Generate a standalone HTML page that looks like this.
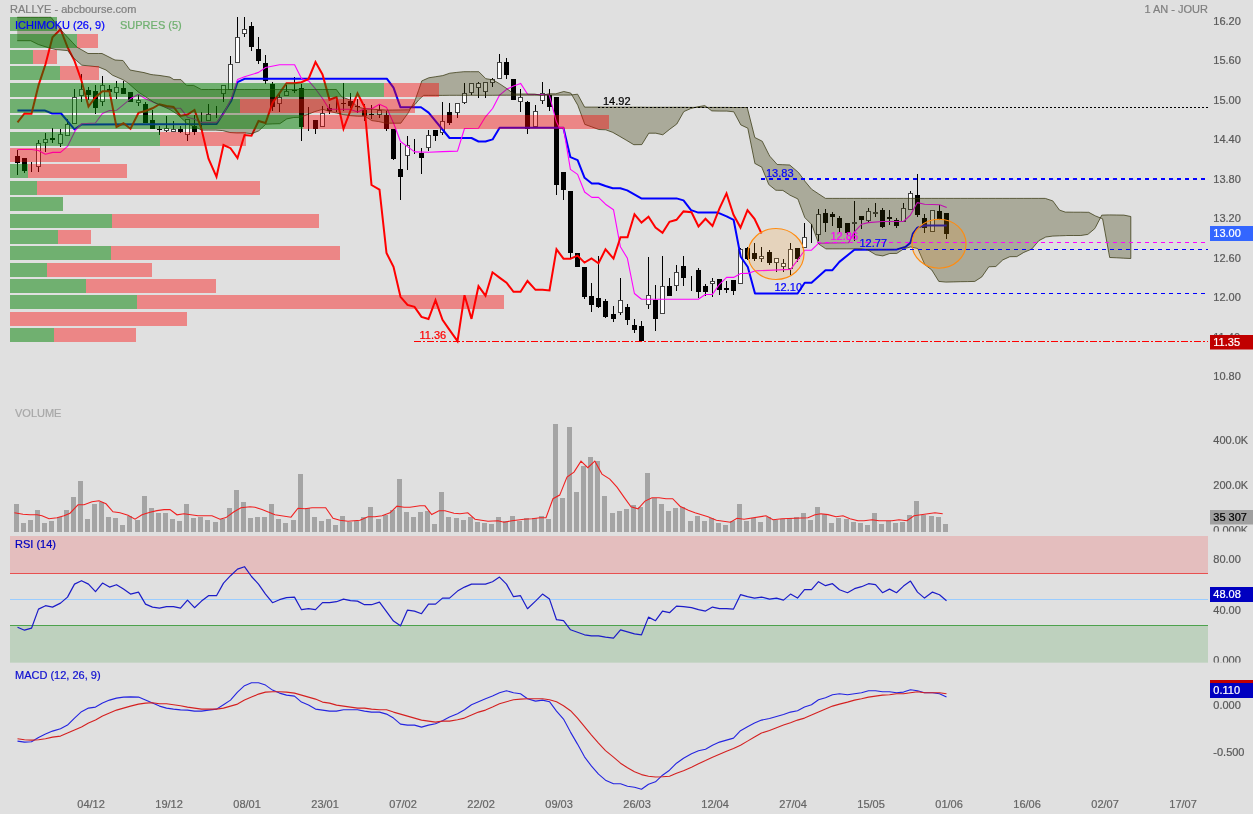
<!DOCTYPE html>
<html><head><meta charset="utf-8"><title>RALLYE - abcbourse.com</title>
<style>html,body{margin:0;padding:0;background:#e0e0e0;overflow:hidden}body{width:1253px;height:814px;font-family:"Liberation Sans",sans-serif}</style></head>
<body>
<svg width="1253" height="814" viewBox="0 0 1253 814" style="display:block;will-change:transform">
<style>text{stroke-width:0.22px;stroke-linejoin:round}</style>
<rect width="1253" height="814" fill="#e0e0e0"/>
<g shape-rendering="crispEdges">
<rect x="17" y="150" width="1" height="25" fill="#000"/>
<rect x="15" y="156" width="5" height="7" fill="#000"/>
<rect x="24" y="158" width="1" height="15" fill="#000"/>
<rect x="22" y="158" width="5" height="13" fill="#000"/>
<rect x="31" y="162" width="1" height="10" fill="#000"/>
<rect x="38" y="140" width="1" height="32" fill="#000"/>
<rect x="36" y="143" width="5" height="24" fill="#444"/>
<rect x="37" y="144" width="3" height="22" fill="#fff"/>
<rect x="45" y="133" width="1" height="19" fill="#000"/>
<rect x="43" y="139" width="5" height="4" fill="#444"/>
<rect x="44" y="140" width="3" height="2" fill="#fff"/>
<rect x="52" y="128" width="1" height="15" fill="#000"/>
<rect x="50" y="138" width="5" height="2" fill="#000"/>
<rect x="60" y="129" width="1" height="18" fill="#000"/>
<rect x="58" y="134" width="5" height="10" fill="#444"/>
<rect x="59" y="135" width="3" height="8" fill="#fff"/>
<rect x="67" y="119" width="1" height="17" fill="#000"/>
<rect x="65" y="124" width="5" height="12" fill="#444"/>
<rect x="66" y="125" width="3" height="10" fill="#fff"/>
<rect x="74" y="89" width="1" height="35" fill="#000"/>
<rect x="72" y="97" width="5" height="27" fill="#444"/>
<rect x="73" y="98" width="3" height="25" fill="#fff"/>
<rect x="81" y="74" width="1" height="28" fill="#000"/>
<rect x="79" y="89" width="5" height="7" fill="#444"/>
<rect x="80" y="90" width="3" height="5" fill="#fff"/>
<rect x="88" y="87" width="1" height="13" fill="#000"/>
<rect x="86" y="90" width="5" height="5" fill="#000"/>
<rect x="95" y="85" width="1" height="29" fill="#000"/>
<rect x="93" y="91" width="5" height="17" fill="#000"/>
<rect x="102" y="76" width="1" height="30" fill="#000"/>
<rect x="100" y="85" width="5" height="17" fill="#444"/>
<rect x="101" y="86" width="3" height="15" fill="#fff"/>
<rect x="109" y="85" width="1" height="11" fill="#000"/>
<rect x="107" y="89" width="5" height="3" fill="#000"/>
<rect x="116" y="81" width="1" height="18" fill="#000"/>
<rect x="114" y="87" width="5" height="6" fill="#444"/>
<rect x="115" y="88" width="3" height="4" fill="#fff"/>
<rect x="123" y="81" width="1" height="13" fill="#000"/>
<rect x="121" y="88" width="5" height="6" fill="#000"/>
<rect x="130" y="92" width="1" height="10" fill="#000"/>
<rect x="128" y="92" width="5" height="10" fill="#000"/>
<rect x="138" y="95" width="1" height="11" fill="#000"/>
<rect x="136" y="100" width="5" height="3" fill="#444"/>
<rect x="137" y="101" width="3" height="1" fill="#fff"/>
<rect x="145" y="102" width="1" height="21" fill="#000"/>
<rect x="143" y="104" width="5" height="19" fill="#000"/>
<rect x="152" y="110" width="1" height="19" fill="#000"/>
<rect x="150" y="120" width="5" height="9" fill="#000"/>
<rect x="159" y="126" width="1" height="9" fill="#000"/>
<rect x="157" y="129" width="5" height="1" fill="#000"/>
<rect x="166" y="116" width="1" height="16" fill="#000"/>
<rect x="164" y="128" width="5" height="3" fill="#444"/>
<rect x="165" y="129" width="3" height="1" fill="#fff"/>
<rect x="173" y="121" width="1" height="11" fill="#000"/>
<rect x="171" y="129" width="5" height="3" fill="#444"/>
<rect x="172" y="130" width="3" height="1" fill="#fff"/>
<rect x="180" y="126" width="1" height="7" fill="#000"/>
<rect x="178" y="129" width="5" height="3" fill="#000"/>
<rect x="187" y="119" width="1" height="22" fill="#000"/>
<rect x="185" y="119" width="5" height="16" fill="#444"/>
<rect x="186" y="120" width="3" height="14" fill="#fff"/>
<rect x="194" y="115" width="1" height="20" fill="#000"/>
<rect x="192" y="126" width="5" height="6" fill="#000"/>
<rect x="201" y="112" width="1" height="17" fill="#000"/>
<rect x="208" y="104" width="1" height="17" fill="#000"/>
<rect x="206" y="114" width="5" height="7" fill="#444"/>
<rect x="207" y="115" width="3" height="5" fill="#fff"/>
<rect x="216" y="106" width="1" height="12" fill="#000"/>
<rect x="223" y="85" width="1" height="17" fill="#000"/>
<rect x="221" y="85" width="5" height="9" fill="#444"/>
<rect x="222" y="86" width="3" height="7" fill="#fff"/>
<rect x="230" y="56" width="1" height="34" fill="#000"/>
<rect x="228" y="64" width="5" height="26" fill="#444"/>
<rect x="229" y="65" width="3" height="24" fill="#fff"/>
<rect x="237" y="17" width="1" height="46" fill="#000"/>
<rect x="235" y="37" width="5" height="26" fill="#444"/>
<rect x="236" y="38" width="3" height="24" fill="#fff"/>
<rect x="244" y="17" width="1" height="20" fill="#000"/>
<rect x="242" y="29" width="5" height="5" fill="#444"/>
<rect x="243" y="30" width="3" height="3" fill="#fff"/>
<rect x="251" y="22" width="1" height="29" fill="#000"/>
<rect x="249" y="26" width="5" height="21" fill="#000"/>
<rect x="258" y="37" width="1" height="27" fill="#000"/>
<rect x="256" y="49" width="5" height="12" fill="#000"/>
<rect x="265" y="55" width="1" height="29" fill="#000"/>
<rect x="263" y="63" width="5" height="18" fill="#000"/>
<rect x="272" y="82" width="1" height="29" fill="#000"/>
<rect x="270" y="84" width="5" height="23" fill="#000"/>
<rect x="279" y="92" width="1" height="20" fill="#000"/>
<rect x="277" y="97" width="5" height="7" fill="#444"/>
<rect x="278" y="98" width="3" height="5" fill="#fff"/>
<rect x="286" y="85" width="1" height="11" fill="#000"/>
<rect x="284" y="91" width="5" height="5" fill="#444"/>
<rect x="285" y="92" width="3" height="3" fill="#fff"/>
<rect x="294" y="77" width="1" height="16" fill="#000"/>
<rect x="292" y="90" width="5" height="1" fill="#000"/>
<rect x="301" y="84" width="1" height="57" fill="#000"/>
<rect x="299" y="88" width="5" height="39" fill="#000"/>
<rect x="308" y="107" width="1" height="24" fill="#000"/>
<rect x="315" y="120" width="1" height="14" fill="#000"/>
<rect x="313" y="120" width="5" height="9" fill="#000"/>
<rect x="322" y="106" width="1" height="21" fill="#000"/>
<rect x="320" y="113" width="5" height="14" fill="#444"/>
<rect x="321" y="114" width="3" height="12" fill="#fff"/>
<rect x="329" y="104" width="1" height="10" fill="#000"/>
<rect x="327" y="108" width="5" height="3" fill="#000"/>
<rect x="336" y="100" width="1" height="12" fill="#000"/>
<rect x="343" y="83" width="1" height="28" fill="#000"/>
<rect x="341" y="103" width="5" height="1" fill="#000"/>
<rect x="350" y="93" width="1" height="15" fill="#000"/>
<rect x="348" y="101" width="5" height="5" fill="#000"/>
<rect x="357" y="99" width="1" height="14" fill="#000"/>
<rect x="355" y="106" width="5" height="1" fill="#000"/>
<rect x="364" y="104" width="1" height="17" fill="#000"/>
<rect x="362" y="110" width="5" height="6" fill="#000"/>
<rect x="371" y="105" width="1" height="14" fill="#000"/>
<rect x="369" y="114" width="5" height="1" fill="#000"/>
<rect x="379" y="104" width="1" height="14" fill="#000"/>
<rect x="377" y="110" width="5" height="5" fill="#444"/>
<rect x="378" y="111" width="3" height="3" fill="#fff"/>
<rect x="386" y="111" width="1" height="20" fill="#000"/>
<rect x="384" y="115" width="5" height="14" fill="#000"/>
<rect x="393" y="129" width="1" height="31" fill="#000"/>
<rect x="391" y="129" width="5" height="30" fill="#000"/>
<rect x="400" y="143" width="1" height="57" fill="#000"/>
<rect x="398" y="169" width="5" height="8" fill="#000"/>
<rect x="407" y="136" width="1" height="34" fill="#000"/>
<rect x="405" y="145" width="5" height="11" fill="#444"/>
<rect x="406" y="146" width="3" height="9" fill="#fff"/>
<rect x="414" y="139" width="1" height="15" fill="#000"/>
<rect x="421" y="148" width="1" height="26" fill="#000"/>
<rect x="419" y="153" width="5" height="5" fill="#000"/>
<rect x="428" y="130" width="1" height="21" fill="#000"/>
<rect x="426" y="135" width="5" height="13" fill="#444"/>
<rect x="427" y="136" width="3" height="11" fill="#fff"/>
<rect x="435" y="130" width="1" height="11" fill="#000"/>
<rect x="433" y="130" width="5" height="6" fill="#000"/>
<rect x="442" y="102" width="1" height="33" fill="#000"/>
<rect x="440" y="121" width="5" height="12" fill="#444"/>
<rect x="441" y="122" width="3" height="10" fill="#fff"/>
<rect x="449" y="103" width="1" height="22" fill="#000"/>
<rect x="447" y="112" width="5" height="11" fill="#000"/>
<rect x="457" y="103" width="1" height="15" fill="#000"/>
<rect x="455" y="103" width="5" height="10" fill="#444"/>
<rect x="456" y="104" width="3" height="8" fill="#fff"/>
<rect x="464" y="83" width="1" height="21" fill="#000"/>
<rect x="462" y="93" width="5" height="10" fill="#444"/>
<rect x="463" y="94" width="3" height="8" fill="#fff"/>
<rect x="471" y="83" width="1" height="12" fill="#000"/>
<rect x="469" y="83" width="5" height="10" fill="#444"/>
<rect x="470" y="84" width="3" height="8" fill="#fff"/>
<rect x="478" y="82" width="1" height="16" fill="#000"/>
<rect x="476" y="83" width="5" height="5" fill="#444"/>
<rect x="477" y="84" width="3" height="3" fill="#fff"/>
<rect x="485" y="82" width="1" height="16" fill="#000"/>
<rect x="483" y="82" width="5" height="10" fill="#444"/>
<rect x="484" y="83" width="3" height="8" fill="#fff"/>
<rect x="492" y="78" width="1" height="9" fill="#000"/>
<rect x="490" y="79" width="5" height="4" fill="#444"/>
<rect x="491" y="80" width="3" height="2" fill="#fff"/>
<rect x="499" y="54" width="1" height="25" fill="#000"/>
<rect x="497" y="62" width="5" height="17" fill="#444"/>
<rect x="498" y="63" width="3" height="15" fill="#fff"/>
<rect x="506" y="58" width="1" height="21" fill="#000"/>
<rect x="504" y="62" width="5" height="13" fill="#000"/>
<rect x="513" y="79" width="1" height="21" fill="#000"/>
<rect x="511" y="79" width="5" height="21" fill="#000"/>
<rect x="520" y="89" width="1" height="23" fill="#000"/>
<rect x="518" y="97" width="5" height="5" fill="#444"/>
<rect x="519" y="98" width="3" height="3" fill="#fff"/>
<rect x="527" y="101" width="1" height="33" fill="#000"/>
<rect x="525" y="102" width="5" height="27" fill="#000"/>
<rect x="535" y="105" width="1" height="23" fill="#000"/>
<rect x="533" y="111" width="5" height="16" fill="#444"/>
<rect x="534" y="112" width="3" height="14" fill="#fff"/>
<rect x="542" y="82" width="1" height="22" fill="#000"/>
<rect x="540" y="93" width="5" height="8" fill="#444"/>
<rect x="541" y="94" width="3" height="6" fill="#fff"/>
<rect x="549" y="89" width="1" height="22" fill="#000"/>
<rect x="547" y="95" width="5" height="12" fill="#000"/>
<rect x="556" y="97" width="1" height="98" fill="#000"/>
<rect x="554" y="97" width="5" height="88" fill="#000"/>
<rect x="563" y="172" width="1" height="28" fill="#000"/>
<rect x="561" y="172" width="5" height="18" fill="#000"/>
<rect x="570" y="191" width="1" height="68" fill="#000"/>
<rect x="568" y="191" width="5" height="62" fill="#000"/>
<rect x="577" y="253" width="1" height="14" fill="#000"/>
<rect x="575" y="253" width="5" height="14" fill="#000"/>
<rect x="584" y="267" width="1" height="32" fill="#000"/>
<rect x="582" y="267" width="5" height="30" fill="#000"/>
<rect x="591" y="283" width="1" height="29" fill="#000"/>
<rect x="589" y="296" width="5" height="9" fill="#000"/>
<rect x="598" y="256" width="1" height="52" fill="#000"/>
<rect x="596" y="298" width="5" height="9" fill="#000"/>
<rect x="605" y="299" width="1" height="19" fill="#000"/>
<rect x="603" y="301" width="5" height="16" fill="#000"/>
<rect x="613" y="306" width="1" height="16" fill="#000"/>
<rect x="611" y="314" width="5" height="5" fill="#000"/>
<rect x="620" y="278" width="1" height="37" fill="#000"/>
<rect x="618" y="300" width="5" height="13" fill="#444"/>
<rect x="619" y="301" width="3" height="11" fill="#fff"/>
<rect x="627" y="304" width="1" height="21" fill="#000"/>
<rect x="625" y="307" width="5" height="13" fill="#000"/>
<rect x="634" y="319" width="1" height="14" fill="#000"/>
<rect x="632" y="325" width="5" height="5" fill="#000"/>
<rect x="641" y="321" width="1" height="20" fill="#000"/>
<rect x="639" y="326" width="5" height="15" fill="#000"/>
<rect x="648" y="257" width="1" height="52" fill="#000"/>
<rect x="646" y="295" width="5" height="10" fill="#444"/>
<rect x="647" y="296" width="3" height="8" fill="#fff"/>
<rect x="655" y="285" width="1" height="46" fill="#000"/>
<rect x="653" y="300" width="5" height="19" fill="#000"/>
<rect x="662" y="256" width="1" height="58" fill="#000"/>
<rect x="660" y="286" width="5" height="28" fill="#444"/>
<rect x="661" y="287" width="3" height="26" fill="#fff"/>
<rect x="669" y="278" width="1" height="18" fill="#000"/>
<rect x="667" y="286" width="5" height="10" fill="#000"/>
<rect x="676" y="265" width="1" height="26" fill="#000"/>
<rect x="674" y="272" width="5" height="14" fill="#444"/>
<rect x="675" y="273" width="3" height="12" fill="#fff"/>
<rect x="683" y="256" width="1" height="30" fill="#000"/>
<rect x="681" y="266" width="5" height="12" fill="#000"/>
<rect x="691" y="276" width="1" height="15" fill="#000"/>
<rect x="698" y="268" width="1" height="30" fill="#000"/>
<rect x="696" y="270" width="5" height="22" fill="#000"/>
<rect x="705" y="284" width="1" height="12" fill="#000"/>
<rect x="703" y="286" width="5" height="6" fill="#000"/>
<rect x="712" y="278" width="1" height="19" fill="#000"/>
<rect x="710" y="281" width="5" height="3" fill="#444"/>
<rect x="711" y="282" width="3" height="1" fill="#fff"/>
<rect x="719" y="279" width="1" height="16" fill="#000"/>
<rect x="717" y="279" width="5" height="11" fill="#000"/>
<rect x="726" y="281" width="1" height="12" fill="#000"/>
<rect x="724" y="288" width="5" height="2" fill="#000"/>
<rect x="733" y="280" width="1" height="15" fill="#000"/>
<rect x="731" y="280" width="5" height="11" fill="#000"/>
<rect x="740" y="248" width="1" height="36" fill="#000"/>
<rect x="738" y="249" width="5" height="35" fill="#444"/>
<rect x="739" y="250" width="3" height="33" fill="#fff"/>
<rect x="747" y="247" width="1" height="13" fill="#000"/>
<rect x="745" y="248" width="5" height="11" fill="#000"/>
<rect x="754" y="243" width="1" height="18" fill="#000"/>
<rect x="752" y="253" width="5" height="6" fill="#000"/>
<rect x="761" y="247" width="1" height="15" fill="#000"/>
<rect x="759" y="256" width="5" height="3" fill="#444"/>
<rect x="760" y="257" width="3" height="1" fill="#fff"/>
<rect x="769" y="250" width="1" height="15" fill="#000"/>
<rect x="767" y="252" width="5" height="11" fill="#000"/>
<rect x="776" y="258" width="1" height="14" fill="#000"/>
<rect x="774" y="258" width="5" height="5" fill="#444"/>
<rect x="775" y="259" width="3" height="3" fill="#fff"/>
<rect x="783" y="259" width="1" height="13" fill="#000"/>
<rect x="781" y="263" width="5" height="4" fill="#444"/>
<rect x="782" y="264" width="3" height="2" fill="#fff"/>
<rect x="790" y="243" width="1" height="32" fill="#000"/>
<rect x="788" y="249" width="5" height="20" fill="#444"/>
<rect x="789" y="250" width="3" height="18" fill="#fff"/>
<rect x="797" y="248" width="1" height="14" fill="#000"/>
<rect x="795" y="248" width="5" height="11" fill="#000"/>
<rect x="804" y="223" width="1" height="25" fill="#000"/>
<rect x="802" y="237" width="5" height="11" fill="#444"/>
<rect x="803" y="238" width="3" height="9" fill="#fff"/>
<rect x="811" y="224" width="1" height="19" fill="#000"/>
<rect x="818" y="209" width="1" height="32" fill="#000"/>
<rect x="816" y="214" width="5" height="21" fill="#444"/>
<rect x="817" y="215" width="3" height="19" fill="#fff"/>
<rect x="825" y="209" width="1" height="23" fill="#000"/>
<rect x="823" y="213" width="5" height="10" fill="#000"/>
<rect x="832" y="212" width="1" height="14" fill="#000"/>
<rect x="830" y="214" width="5" height="3" fill="#000"/>
<rect x="839" y="216" width="1" height="16" fill="#000"/>
<rect x="837" y="218" width="5" height="10" fill="#000"/>
<rect x="847" y="223" width="1" height="12" fill="#000"/>
<rect x="845" y="223" width="5" height="10" fill="#000"/>
<rect x="854" y="201" width="1" height="40" fill="#000"/>
<rect x="852" y="222" width="5" height="2" fill="#444"/>
<rect x="861" y="216" width="1" height="13" fill="#000"/>
<rect x="859" y="216" width="5" height="4" fill="#000"/>
<rect x="868" y="208" width="1" height="14" fill="#000"/>
<rect x="866" y="211" width="5" height="10" fill="#444"/>
<rect x="867" y="212" width="3" height="8" fill="#fff"/>
<rect x="875" y="203" width="1" height="14" fill="#000"/>
<rect x="873" y="212" width="5" height="2" fill="#444"/>
<rect x="882" y="208" width="1" height="20" fill="#000"/>
<rect x="880" y="210" width="5" height="17" fill="#000"/>
<rect x="889" y="210" width="1" height="15" fill="#000"/>
<rect x="887" y="217" width="5" height="2" fill="#000"/>
<rect x="896" y="218" width="1" height="10" fill="#000"/>
<rect x="894" y="220" width="5" height="6" fill="#000"/>
<rect x="903" y="203" width="1" height="19" fill="#000"/>
<rect x="901" y="208" width="5" height="14" fill="#444"/>
<rect x="902" y="209" width="3" height="12" fill="#fff"/>
<rect x="910" y="191" width="1" height="19" fill="#000"/>
<rect x="908" y="193" width="5" height="17" fill="#444"/>
<rect x="909" y="194" width="3" height="15" fill="#fff"/>
<rect x="917" y="174" width="1" height="43" fill="#000"/>
<rect x="915" y="195" width="5" height="20" fill="#000"/>
<rect x="924" y="214" width="1" height="19" fill="#000"/>
<rect x="922" y="218" width="5" height="10" fill="#000"/>
<rect x="932" y="210" width="1" height="22" fill="#000"/>
<rect x="930" y="210" width="5" height="22" fill="#444"/>
<rect x="931" y="211" width="3" height="20" fill="#fff"/>
<rect x="939" y="205" width="1" height="15" fill="#000"/>
<rect x="937" y="211" width="5" height="8" fill="#000"/>
<rect x="946" y="213" width="1" height="26" fill="#000"/>
<rect x="944" y="213" width="5" height="21" fill="#000"/>
</g>
<polyline points="17.4,110.6 45.1,110.6 52.2,113.5 61.1,113.5 74.5,129.4 81.6,124.5 216.6,124 231.3,100.7 237.5,82.2 244.5,78.8 386.8,78.7 393.5,87.6 400.5,107.3 421,107.3 428.6,112.6 449.5,138 471.5,138 478.5,141.5 485.5,141.5 492.6,139.4 499.6,127.7 563.4,127.7 570.4,157.2 577.6,160.2 584.6,177.8 591.8,183.5 598.5,183.5 605.5,186 612.7,188.2 620.3,188.2 627.2,190.4 641.3,198.4 676.5,198.4 683.5,200.4 691,210.1 698.3,212.6 717.1,212.6 719.6,213.4 726.6,216.4 733.6,219.8 740.7,256.7 747.8,267 755,293.5 797.6,293.5 804.7,282.8 811.5,282.8 825.5,270.2 832.4,270.2 839.4,261.9 854.4,249.7 897,249.4 905.4,246.9 910.4,242.7 912.9,233.5 917.4,227.6 924.6,225.5 946.7,225.5" fill="none" stroke="#0000ff" stroke-width="2" stroke-linejoin="round"/>
<polyline points="17.4,149.5 31.7,149.5 38.4,150.5 45.4,154.3 52.8,152.4 60.5,152.4 67.5,146.4 75.2,130.7 81.6,123.7 95.4,123 102.4,113.5 109.4,110.6 116.5,110.3 130.5,98.8 138.4,94.3 145.5,98.8 159.5,105.1 170,108.3 180.6,108.3 187.6,117.3 194.5,119.2 201.6,122.4 216.6,122.4 223.4,114.1 231.3,98.4 237.5,79.6 244.5,76.8 258.6,72.4 265.6,67.5 279.5,64.7 294.6,64.7 301.6,78.8 308.7,80.9 315.7,89.2 322.7,98.8 329.2,109.3 350,109.3 357.6,112.1 364.6,108.8 371.8,108.8 379.5,104.3 386.6,107.6 393.7,123.5 400.5,141.5 407.5,146.6 414.7,151.9 428.6,152.2 442.6,151.6 457.5,151.1 464.5,128.5 478.5,128.2 485.5,116.8 492.6,108.5 499.6,95.1 506.6,89.3 513.6,85.9 520.6,83.4 527.6,94.3 549.2,94.7 556.4,121.8 559.2,127.6 563.4,127.6 570.4,169.4 577.6,174.4 584.6,192 591.8,197.4 598.5,197.4 605.5,204.2 613.5,209.7 620.4,246.8 627.4,258.3 634.4,293.5 641.5,299.3 698.3,299.3 705.3,294.5 712.4,294.4 719.5,284.3 726.6,277.4 733.6,277.4 740.7,273.5 747.8,273.4 755,270.9 790.5,269.4 797.6,260.2 804.7,250.2 811.5,250.2 818.5,243.3 848.6,242.7 854.4,231.8 861.5,224.3 868.3,222.6 882.3,221.5 903.4,221.5 910.4,215.1 917.4,202.6 924.6,204.3 939.6,204.8 946.7,207.6" fill="none" stroke="#ff00ff" stroke-width="1.1" stroke-linejoin="round"/>
<polyline points="17.5,122.3 24.5,113.5 31.5,113.8 38.5,85.4 45.5,64.3 52.5,37.2 60.5,29.2 67.5,47.1 74.5,60.9 81.5,80.7 88.5,106.5 95.5,97.2 102.5,91.2 109.5,91.2 116.5,126.9 123.5,123.3 130.5,128.8 138.5,112.8 145.5,111 152.5,108.3 159.5,104.2 166.5,106 173.5,107 180.5,116 187.5,114.5 194.5,110 201.5,129 208.5,158.7 216.5,176.8 223.5,145 230.5,148.2 237.5,158 244.5,135 251.5,135.8 258.5,121 265.5,123 272.5,103 279.5,93.2 286.5,83.2 294.5,83.2 301.5,82.2 308.5,79 315.5,62 322.5,74.5 329.5,99.8 336.5,97 343.5,128.7 350.5,110.5 357.5,93.4 364.5,107 371.5,185 379.5,189.7 386.5,253 393.5,266.8 400.5,296.8 407.5,304.9 414.5,306.9 421.5,316.9 428.5,319 435.5,300.1 442.5,319.9 449.5,329.9 457.5,341.1 464.5,295.2 471.5,318.9 478.5,286.2 485.5,295.7 492.5,272.3 499.5,277.6 506.5,282.7 513.5,291.8 520.5,291.8 527.5,281 535.5,289.8 542.5,289.8 549.5,290.5 556.5,249.3 563.5,258.7 570.5,258.7 577.5,255.6 584.5,262.6 591.5,258.4 598.5,263.2 605.5,249.4 613.5,258.6 620.5,237.2 627.5,237.2 634.5,214.3 641.5,222.6 648.5,216.7 655.5,227.6 662.5,232.7 669.5,221.8 676.5,219.8 683.5,211.4 691.5,212.3 698.5,226.5 705.5,218.8 712.5,226 719.5,208.4 726.5,193.4 733.5,214.8 740.5,227.6 747.5,210.1 754.5,218.8 761.5,233.5" fill="none" stroke="#ff0000" stroke-width="2" stroke-linejoin="miter"/>
<polygon points="17.2,40.7 30.7,40.7 38.3,44.5 48.5,47.7 51,48.3 56,49.6 60,49.9 67.7,50.6 72.8,57.3 76.7,60.7 81.8,65.2 88,65.8 98.4,66.9 102,68.4 106,70 112.5,75.2 115,76.3 122.7,79.6 123,79.8 127.8,82.8 130,84.7 138,91.8 144,95.8 151,100.4 153.4,102 160,105 170,109.6 173.8,112 177,114.1 180.9,117.7 186.6,122.9 187.5,123.8 193.6,126.4 201.3,129.8 201.8,130.1 208.8,130.1 215.8,130.1 222.8,130.6 229.8,132.5 236.8,133 244.8,132.9 251.8,133.7 258.8,130.8 265.8,124.2 272.8,123.9 279.8,123.7 286.8,118.9 293.8,117.5 300.8,117.3 307.8,114.4 314.8,111.6 322.8,109.3 329.8,111.5 336.4,113 336.8,113.1 341.7,114.2 343.8,114.7 350,115.6 350.8,115.7 357.6,116.2 357.8,116.2 364.6,116.2 364.8,116.2 371.8,120.6 378.8,121.6 385.8,123.2 386.8,123.2 392.8,123.2 400.8,123.2 407.8,113.5 408.5,112.3 414.8,101 415.2,99.9 418.5,90.5 421.8,80.9 423.6,80.1 428.8,77.8 435.8,76.7 442.8,75.6 449.8,73.2 456.8,72.4 463.8,71.7 470.8,71.7 478.8,71.7 485.8,78.7 492.8,79.8 499.8,83.9 506.8,88.6 513.8,94 520.8,94 527.8,94 534.8,94.1 541.8,95.4 548.8,93.8 555.8,93.8 563.8,91.5 570.4,93 570.8,93.1 577.6,104.9 577.8,105.3 584.6,123.8 584.8,124.4 591.8,126.9 598.8,129.5 605.8,129.8 612.8,132.4 619.8,136.4 626.8,140.5 633.8,144.7 641.8,144.6 648.8,133.2 655.8,133.2 662.8,134.8 669.8,129.2 676.8,124 683.8,111.6 690.8,108.5 697.8,106.8 704.8,105.6 711.8,110.9 719.8,111.1 726.8,111.1 733.8,111.8 740.8,124.9 747.2,127.9 747.8,128.2 754.8,162.9 754.8,163.4 761.8,167.2 762.2,168.3 768.8,184.6 769.8,185.4 775.8,190.2 777.2,190.3 782.8,190.4 789.8,195 789.8,195.1 797.8,198.9 798.5,200.7 804.7,217.3 804.8,217.6 811.5,224.3 811.8,224.7 818.8,244.1 825.5,248.6 825.8,248.9 832.8,248.9 839.8,248.9 846.8,248.9 853.8,248.9 860.8,248.9 867.8,249.9 875.8,254.8 882.8,255.9 889.8,253.5 896.8,253.4 903.8,248.8 910.8,246.9 917.8,248.6 924.8,264.6 931.8,270 938.8,281.4 945.8,282.1 953.8,281.9 960.8,281.7 967.8,281.6 974.8,281.4 981.8,276.9 988.8,266.8 995.8,266.5 1002.8,259.9 1009.8,256.7 1016.8,256.6 1023.8,252.4 1031.8,249 1038.8,240.7 1045.3,237.3 1045.8,237 1052.8,236.1 1052.8,236.1 1059.5,235.8 1059.8,235.8 1065.3,235.6 1066.8,235.5 1073.8,235.5 1080.8,235.5 1087.8,234.4 1088.7,233.7 1094.8,228.6 1095.4,227.5 1101.8,215.1 1102.6,215.1 1108.8,214.9 1109.7,214.9 1116.8,215 1123.8,215.1 1130.8,216.5 1130.8,216.5 1130.8,258.5 1130.8,258.5 1123.8,258.2 1116.8,257.8 1109.7,257.5 1108.8,252.8 1102.6,218.8 1101.8,218.5 1095.4,215.9 1094.8,215.6 1088.7,212.3 1087.8,212.3 1080.8,212.2 1073.8,212.2 1066.8,212.1 1065.3,212.1 1059.8,210.2 1059.5,210.1 1052.8,200.9 1052.8,200.9 1045.8,198.6 1045.3,198.4 1038.8,198.4 1031.8,198.4 1023.8,198.4 1016.8,198.4 1009.8,198.4 1002.8,198.4 995.8,198.4 988.8,198.4 981.8,198.4 974.8,198.4 967.8,198.4 960.8,198.4 953.8,198.4 945.8,198.4 938.8,198.4 931.8,198.4 924.8,198.4 917.8,198.4 910.8,198.4 903.8,198.4 896.8,198.4 889.8,198.4 882.8,198.4 875.8,198.4 867.8,198.4 860.8,198.4 853.8,198.4 846.8,198.4 839.8,198.4 832.8,198.4 825.8,198.4 825.5,198.4 818.8,194 811.8,189.4 811.5,189.2 804.8,181.1 804.7,180.9 798.5,172.5 797.8,171.9 789.8,165.1 789.8,165 782.8,164.7 777.2,164.5 775.8,162.9 769.8,156.2 768.8,154.4 762.2,141.2 761.8,141 754.8,137.5 754.8,137.5 747.8,109.8 747.2,107.5 740.8,107.5 733.8,107.5 726.8,107.4 719.8,107.4 711.8,107.4 704.8,107.4 697.8,107.4 690.8,107.4 683.8,107.3 676.8,107.3 669.8,107.3 662.8,107.3 655.8,107.3 648.8,107.3 641.8,107.2 633.8,107.2 626.8,107.2 619.8,107.2 612.8,107.2 605.8,107.2 598.8,107.1 591.8,107.1 584.8,107.1 584.6,107.1 577.8,94.6 577.6,94.2 570.8,95 570.4,95.1 563.8,95.1 555.8,95.1 548.8,95.1 541.8,95.2 534.8,95.2 527.8,95.2 520.8,95.2 513.8,95.2 506.8,95.2 499.8,95.2 492.8,95.3 485.8,95.3 478.8,95.3 470.8,95.3 463.8,95.3 456.8,95.3 449.8,95.3 442.8,95.4 435.8,95.4 428.8,95.4 423.6,95.4 421.8,97 418.5,100.1 415.2,104.3 414.8,104.6 408.5,109.8 407.8,109.8 400.8,109.9 392.8,110 386.8,110.1 385.8,110 378.8,109.6 371.8,109.2 364.8,108.8 364.6,108.8 357.8,106.9 357.6,106.8 350.8,100.8 350,100.1 343.8,97.6 341.7,96.8 336.8,90.1 336.4,89.5 329.8,89.5 322.8,89.5 314.8,89.5 307.8,89.5 300.8,89.5 293.8,89.5 286.8,89.5 279.8,89.5 272.8,89.5 265.8,89.5 258.8,89.5 251.8,89.5 244.8,89.5 236.8,89.5 229.8,89.5 222.8,89.5 215.8,89.5 208.8,89.5 201.8,89.5 201.3,89.5 193.6,85.4 187.5,85.4 186.6,85.4 180.9,79.6 177,79.6 173.8,79.6 170,77.1 160,75.5 153.4,74.8 151,74.5 144,72.6 138,71.5 130,70 127.8,67 123,60.5 122.7,60.5 115,60 112.5,58.8 106,55.5 102,53.5 98.4,53.5 88,53.5 81.8,49.9 76.7,47 72.8,42.8 67.7,37.3 60,29 56,23.8 51,17.3 48.5,17.3 38.3,17.3 30.7,17.3 17.2,17.3" fill="rgba(52,52,0,0.31)" stroke="none"/>
<polyline points="17.2,40.7 30.7,40.7 38.3,44.5 48.5,47.7 51,48.3 56,49.6 60,49.9 67.7,50.6 72.8,57.3 76.7,60.7 81.8,65.2 88,65.8 98.4,66.9 102,68.4 106,70 112.5,75.2 115,76.3 122.7,79.6 123,79.8 127.8,82.8 130,84.7 138,91.8 144,95.8 151,100.4 153.4,102 160,105 170,109.6 173.8,112 177,114.1 180.9,117.7 186.6,122.9 187.5,123.8 193.6,126.4 201.3,129.8 201.8,130.1 208.8,130.1 215.8,130.1 222.8,130.6 229.8,132.5 236.8,133 244.8,132.9 251.8,133.7 258.8,130.8 265.8,124.2 272.8,123.9 279.8,123.7 286.8,118.9 293.8,117.5 300.8,117.3 307.8,114.4 314.8,111.6 322.8,109.3 329.8,111.5 336.4,113 336.8,113.1 341.7,114.2 343.8,114.7 350,115.6 350.8,115.7 357.6,116.2 357.8,116.2 364.6,116.2 364.8,116.2 371.8,120.6 378.8,121.6 385.8,123.2 386.8,123.2 392.8,123.2 400.8,123.2 407.8,113.5 408.5,112.3 414.8,101 415.2,99.9 418.5,90.5 421.8,80.9 423.6,80.1 428.8,77.8 435.8,76.7 442.8,75.6 449.8,73.2 456.8,72.4 463.8,71.7 470.8,71.7 478.8,71.7 485.8,78.7 492.8,79.8 499.8,83.9 506.8,88.6 513.8,94 520.8,94 527.8,94 534.8,94.1 541.8,95.4 548.8,93.8 555.8,93.8 563.8,91.5 570.4,93 570.8,93.1 577.6,104.9 577.8,105.3 584.6,123.8 584.8,124.4 591.8,126.9 598.8,129.5 605.8,129.8 612.8,132.4 619.8,136.4 626.8,140.5 633.8,144.7 641.8,144.6 648.8,133.2 655.8,133.2 662.8,134.8 669.8,129.2 676.8,124 683.8,111.6 690.8,108.5 697.8,106.8 704.8,105.6 711.8,110.9 719.8,111.1 726.8,111.1 733.8,111.8 740.8,124.9 747.2,127.9 747.8,128.2 754.8,162.9 754.8,163.4 761.8,167.2 762.2,168.3 768.8,184.6 769.8,185.4 775.8,190.2 777.2,190.3 782.8,190.4 789.8,195 789.8,195.1 797.8,198.9 798.5,200.7 804.7,217.3 804.8,217.6 811.5,224.3 811.8,224.7 818.8,244.1 825.5,248.6 825.8,248.9 832.8,248.9 839.8,248.9 846.8,248.9 853.8,248.9 860.8,248.9 867.8,249.9 875.8,254.8 882.8,255.9 889.8,253.5 896.8,253.4 903.8,248.8 910.8,246.9 917.8,248.6 924.8,264.6 931.8,270 938.8,281.4 945.8,282.1 953.8,281.9 960.8,281.7 967.8,281.6 974.8,281.4 981.8,276.9 988.8,266.8 995.8,266.5 1002.8,259.9 1009.8,256.7 1016.8,256.6 1023.8,252.4 1031.8,249 1038.8,240.7 1045.3,237.3 1045.8,237 1052.8,236.1 1052.8,236.1 1059.5,235.8 1059.8,235.8 1065.3,235.6 1066.8,235.5 1073.8,235.5 1080.8,235.5 1087.8,234.4 1088.7,233.7 1094.8,228.6 1095.4,227.5 1101.8,215.1 1102.6,215.1 1108.8,214.9 1109.7,214.9 1116.8,215 1123.8,215.1 1130.8,216.5 1130.8,216.5" fill="none" stroke="rgba(50,50,10,0.72)" stroke-width="1"/>
<polyline points="17.2,17.3 30.7,17.3 38.3,17.3 48.5,17.3 51,17.3 56,23.8 60,29 67.7,37.3 72.8,42.8 76.7,47 81.8,49.9 88,53.5 98.4,53.5 102,53.5 106,55.5 112.5,58.8 115,60 122.7,60.5 123,60.5 127.8,67 130,70 138,71.5 144,72.6 151,74.5 153.4,74.8 160,75.5 170,77.1 173.8,79.6 177,79.6 180.9,79.6 186.6,85.4 187.5,85.4 193.6,85.4 201.3,89.5 201.8,89.5 208.8,89.5 215.8,89.5 222.8,89.5 229.8,89.5 236.8,89.5 244.8,89.5 251.8,89.5 258.8,89.5 265.8,89.5 272.8,89.5 279.8,89.5 286.8,89.5 293.8,89.5 300.8,89.5 307.8,89.5 314.8,89.5 322.8,89.5 329.8,89.5 336.4,89.5 336.8,90.1 341.7,96.8 343.8,97.6 350,100.1 350.8,100.8 357.6,106.8 357.8,106.9 364.6,108.8 364.8,108.8 371.8,109.2 378.8,109.6 385.8,110 386.8,110.1 392.8,110 400.8,109.9 407.8,109.8 408.5,109.8 414.8,104.6 415.2,104.3 418.5,100.1 421.8,97 423.6,95.4 428.8,95.4 435.8,95.4 442.8,95.4 449.8,95.3 456.8,95.3 463.8,95.3 470.8,95.3 478.8,95.3 485.8,95.3 492.8,95.3 499.8,95.2 506.8,95.2 513.8,95.2 520.8,95.2 527.8,95.2 534.8,95.2 541.8,95.2 548.8,95.1 555.8,95.1 563.8,95.1 570.4,95.1 570.8,95 577.6,94.2 577.8,94.6 584.6,107.1 584.8,107.1 591.8,107.1 598.8,107.1 605.8,107.2 612.8,107.2 619.8,107.2 626.8,107.2 633.8,107.2 641.8,107.2 648.8,107.3 655.8,107.3 662.8,107.3 669.8,107.3 676.8,107.3 683.8,107.3 690.8,107.4 697.8,107.4 704.8,107.4 711.8,107.4 719.8,107.4 726.8,107.4 733.8,107.5 740.8,107.5 747.2,107.5 747.8,109.8 754.8,137.5 754.8,137.5 761.8,141 762.2,141.2 768.8,154.4 769.8,156.2 775.8,162.9 777.2,164.5 782.8,164.7 789.8,165 789.8,165.1 797.8,171.9 798.5,172.5 804.7,180.9 804.8,181.1 811.5,189.2 811.8,189.4 818.8,194 825.5,198.4 825.8,198.4 832.8,198.4 839.8,198.4 846.8,198.4 853.8,198.4 860.8,198.4 867.8,198.4 875.8,198.4 882.8,198.4 889.8,198.4 896.8,198.4 903.8,198.4 910.8,198.4 917.8,198.4 924.8,198.4 931.8,198.4 938.8,198.4 945.8,198.4 953.8,198.4 960.8,198.4 967.8,198.4 974.8,198.4 981.8,198.4 988.8,198.4 995.8,198.4 1002.8,198.4 1009.8,198.4 1016.8,198.4 1023.8,198.4 1031.8,198.4 1038.8,198.4 1045.3,198.4 1045.8,198.6 1052.8,200.9 1052.8,200.9 1059.5,210.1 1059.8,210.2 1065.3,212.1 1066.8,212.1 1073.8,212.2 1080.8,212.2 1087.8,212.3 1088.7,212.3 1094.8,215.6 1095.4,215.9 1101.8,218.5 1102.6,218.8 1108.8,252.8 1109.7,257.5 1116.8,257.8 1123.8,258.2 1130.8,258.5 1130.8,258.5" fill="none" stroke="rgba(50,50,10,0.72)" stroke-width="1"/>
<line x1="1130.8" y1="216.5" x2="1130.8" y2="258.5" stroke="rgba(50,50,10,0.72)" stroke-width="1"/>
<g shape-rendering="crispEdges">
<rect x="10" y="17" width="47" height="14" fill="rgba(0,128,0,0.5)"/>
<rect x="10" y="34" width="66.5" height="14" fill="rgba(0,128,0,0.5)"/>
<rect x="76.5" y="34" width="21.5" height="14" fill="rgba(255,0,0,0.4)"/>
<rect x="10" y="50" width="23" height="14" fill="rgba(0,128,0,0.5)"/>
<rect x="33" y="50" width="24" height="14" fill="rgba(255,0,0,0.4)"/>
<rect x="10" y="66" width="49.5" height="14" fill="rgba(0,128,0,0.5)"/>
<rect x="59.5" y="66" width="39.5" height="14" fill="rgba(255,0,0,0.4)"/>
<rect x="10" y="83" width="374" height="14" fill="rgba(0,128,0,0.5)"/>
<rect x="384" y="83" width="55" height="14" fill="rgba(255,0,0,0.4)"/>
<rect x="10" y="99" width="229.5" height="14" fill="rgba(0,128,0,0.5)"/>
<rect x="239.5" y="99" width="175.5" height="14" fill="rgba(255,0,0,0.4)"/>
<rect x="10" y="115" width="293" height="14" fill="rgba(0,128,0,0.5)"/>
<rect x="303" y="115" width="306" height="14" fill="rgba(255,0,0,0.4)"/>
<rect x="10" y="132" width="150" height="14" fill="rgba(0,128,0,0.5)"/>
<rect x="160" y="132" width="86" height="14" fill="rgba(255,0,0,0.4)"/>
<rect x="10" y="148" width="89.5" height="14" fill="rgba(255,0,0,0.4)"/>
<rect x="10" y="164" width="18" height="14" fill="rgba(0,128,0,0.5)"/>
<rect x="28" y="164" width="99" height="14" fill="rgba(255,0,0,0.4)"/>
<rect x="10" y="181" width="27" height="14" fill="rgba(0,128,0,0.5)"/>
<rect x="37" y="181" width="223" height="14" fill="rgba(255,0,0,0.4)"/>
<rect x="10" y="197" width="53" height="14" fill="rgba(0,128,0,0.5)"/>
<rect x="10" y="214" width="102" height="14" fill="rgba(0,128,0,0.5)"/>
<rect x="112" y="214" width="207" height="14" fill="rgba(255,0,0,0.4)"/>
<rect x="10" y="230" width="48" height="14" fill="rgba(0,128,0,0.5)"/>
<rect x="58" y="230" width="33" height="14" fill="rgba(255,0,0,0.4)"/>
<rect x="10" y="246" width="101" height="14" fill="rgba(0,128,0,0.5)"/>
<rect x="111" y="246" width="229" height="14" fill="rgba(255,0,0,0.4)"/>
<rect x="10" y="263" width="37" height="14" fill="rgba(0,128,0,0.5)"/>
<rect x="47" y="263" width="105" height="14" fill="rgba(255,0,0,0.4)"/>
<rect x="10" y="279" width="76" height="14" fill="rgba(0,128,0,0.5)"/>
<rect x="86" y="279" width="129.5" height="14" fill="rgba(255,0,0,0.4)"/>
<rect x="10" y="295" width="127" height="14" fill="rgba(0,128,0,0.5)"/>
<rect x="137" y="295" width="367" height="14" fill="rgba(255,0,0,0.4)"/>
<rect x="10" y="312" width="177" height="14" fill="rgba(255,0,0,0.4)"/>
<rect x="10" y="328" width="44" height="14" fill="rgba(0,128,0,0.5)"/>
<rect x="54" y="328" width="82" height="14" fill="rgba(255,0,0,0.4)"/>
</g>
<ellipse cx="776" cy="254" rx="28" ry="25.5" fill="rgba(255,140,0,0.16)" stroke="#ff8c10" stroke-width="1.15"/>
<ellipse cx="939" cy="243.7" rx="27" ry="24.5" fill="rgba(255,140,0,0.16)" stroke="#ff8c10" stroke-width="1.15"/>
<g shape-rendering="crispEdges">
<line x1="598" y1="107.5" x2="1209" y2="107.5" stroke="#000" stroke-width="1" stroke-dasharray="2 2"/>
<line x1="761" y1="179" x2="1205" y2="179" stroke="#0000ff" stroke-width="2" stroke-dasharray="4 4"/>
<line x1="817" y1="242.5" x2="1206" y2="242.5" stroke="#ff00ff" stroke-width="1" stroke-dasharray="4 4"/>
<line x1="854" y1="249.5" x2="1208" y2="249.5" stroke="#0000ff" stroke-width="1" stroke-dasharray="4 4"/>
<line x1="793" y1="293.5" x2="1205" y2="293.5" stroke="#0000ff" stroke-width="1" stroke-dasharray="4 4"/>
<line x1="414" y1="341.5" x2="1208" y2="341.5" stroke="#ff0000" stroke-width="1" stroke-dasharray="7 2 2 2"/>
</g>
<g font-family="Liberation Sans, sans-serif" font-size="11">
<text x="603" y="105" fill="#000" stroke="#000">14.92</text>
<text x="766" y="177" fill="#0000ff" stroke="#0000ff">13.83</text>
<text x="830.5" y="239.5" fill="#ff00ff" stroke="#ff00ff">12.86</text>
<text x="859.5" y="247" fill="#0000ff" stroke="#0000ff">12.77</text>
<text x="774.5" y="291" fill="#0000ff" stroke="#0000ff">12.10</text>
<text x="419.5" y="339" fill="#ff0000" stroke="#ff0000">11.36</text>
</g>
<g shape-rendering="crispEdges" fill="#a4a4a4">
<rect x="14" y="504" width="5" height="28"/>
<rect x="21" y="523" width="5" height="9"/>
<rect x="28" y="520" width="5" height="12"/>
<rect x="35" y="510" width="5" height="22"/>
<rect x="42" y="523" width="5" height="9"/>
<rect x="49" y="521" width="5" height="11"/>
<rect x="57" y="517" width="5" height="15"/>
<rect x="64" y="510" width="5" height="22"/>
<rect x="71" y="497" width="5" height="35"/>
<rect x="78" y="481" width="5" height="51"/>
<rect x="85" y="519" width="5" height="13"/>
<rect x="92" y="504" width="5" height="28"/>
<rect x="99" y="502" width="5" height="30"/>
<rect x="106" y="517" width="5" height="15"/>
<rect x="113" y="518" width="5" height="14"/>
<rect x="120" y="525" width="5" height="7"/>
<rect x="127" y="516" width="5" height="16"/>
<rect x="135" y="520" width="5" height="12"/>
<rect x="142" y="496" width="5" height="36"/>
<rect x="149" y="508" width="5" height="24"/>
<rect x="156" y="513" width="5" height="19"/>
<rect x="163" y="513" width="5" height="19"/>
<rect x="170" y="519" width="5" height="13"/>
<rect x="177" y="521" width="5" height="11"/>
<rect x="184" y="504" width="5" height="28"/>
<rect x="191" y="518" width="5" height="14"/>
<rect x="198" y="517" width="5" height="15"/>
<rect x="205" y="520" width="5" height="12"/>
<rect x="213" y="522" width="5" height="10"/>
<rect x="220" y="519" width="5" height="13"/>
<rect x="227" y="508" width="5" height="24"/>
<rect x="234" y="490" width="5" height="42"/>
<rect x="241" y="502" width="5" height="30"/>
<rect x="248" y="518" width="5" height="14"/>
<rect x="255" y="517" width="5" height="15"/>
<rect x="262" y="517" width="5" height="15"/>
<rect x="269" y="504" width="5" height="28"/>
<rect x="276" y="519" width="5" height="13"/>
<rect x="283" y="523" width="5" height="9"/>
<rect x="291" y="520" width="5" height="12"/>
<rect x="298" y="474" width="5" height="58"/>
<rect x="305" y="508" width="5" height="24"/>
<rect x="312" y="517" width="5" height="15"/>
<rect x="319" y="521" width="5" height="11"/>
<rect x="326" y="519" width="5" height="13"/>
<rect x="333" y="525" width="5" height="7"/>
<rect x="340" y="516" width="5" height="16"/>
<rect x="347" y="522" width="5" height="10"/>
<rect x="354" y="521" width="5" height="11"/>
<rect x="361" y="517" width="5" height="15"/>
<rect x="368" y="507" width="5" height="25"/>
<rect x="376" y="519" width="5" height="13"/>
<rect x="383" y="515" width="5" height="17"/>
<rect x="390" y="510" width="5" height="22"/>
<rect x="397" y="479" width="5" height="53"/>
<rect x="404" y="512" width="5" height="20"/>
<rect x="411" y="517" width="5" height="15"/>
<rect x="418" y="512" width="5" height="20"/>
<rect x="425" y="511" width="5" height="21"/>
<rect x="432" y="524" width="5" height="8"/>
<rect x="439" y="492" width="5" height="40"/>
<rect x="446" y="517" width="5" height="15"/>
<rect x="454" y="518" width="5" height="14"/>
<rect x="461" y="520" width="5" height="12"/>
<rect x="468" y="517" width="5" height="15"/>
<rect x="475" y="522" width="5" height="10"/>
<rect x="482" y="523" width="5" height="9"/>
<rect x="489" y="524" width="5" height="8"/>
<rect x="496" y="517" width="5" height="15"/>
<rect x="503" y="521" width="5" height="11"/>
<rect x="510" y="516" width="5" height="16"/>
<rect x="517" y="521" width="5" height="11"/>
<rect x="524" y="518" width="5" height="14"/>
<rect x="532" y="518" width="5" height="14"/>
<rect x="539" y="516" width="5" height="16"/>
<rect x="546" y="519" width="5" height="13"/>
<rect x="553" y="424" width="5" height="108"/>
<rect x="560" y="498" width="5" height="34"/>
<rect x="567" y="427" width="5" height="105"/>
<rect x="574" y="492" width="5" height="40"/>
<rect x="581" y="466" width="5" height="66"/>
<rect x="588" y="457" width="5" height="75"/>
<rect x="595" y="461" width="5" height="71"/>
<rect x="602" y="496" width="5" height="36"/>
<rect x="610" y="513" width="5" height="19"/>
<rect x="617" y="511" width="5" height="21"/>
<rect x="624" y="509" width="5" height="23"/>
<rect x="631" y="505" width="5" height="27"/>
<rect x="638" y="507" width="5" height="25"/>
<rect x="645" y="473" width="5" height="59"/>
<rect x="652" y="498" width="5" height="34"/>
<rect x="659" y="504" width="5" height="28"/>
<rect x="666" y="511" width="5" height="21"/>
<rect x="673" y="508" width="5" height="24"/>
<rect x="680" y="507" width="5" height="25"/>
<rect x="688" y="521" width="5" height="11"/>
<rect x="695" y="516" width="5" height="16"/>
<rect x="702" y="521" width="5" height="11"/>
<rect x="709" y="518" width="5" height="14"/>
<rect x="716" y="523" width="5" height="9"/>
<rect x="723" y="525" width="5" height="7"/>
<rect x="730" y="521" width="5" height="11"/>
<rect x="737" y="504" width="5" height="28"/>
<rect x="744" y="521" width="5" height="11"/>
<rect x="751" y="518" width="5" height="14"/>
<rect x="758" y="522" width="5" height="10"/>
<rect x="766" y="517" width="5" height="15"/>
<rect x="773" y="520" width="5" height="12"/>
<rect x="780" y="519" width="5" height="13"/>
<rect x="787" y="518" width="5" height="14"/>
<rect x="794" y="517" width="5" height="15"/>
<rect x="801" y="513" width="5" height="19"/>
<rect x="808" y="520" width="5" height="12"/>
<rect x="815" y="507" width="5" height="25"/>
<rect x="822" y="514" width="5" height="18"/>
<rect x="829" y="523" width="5" height="9"/>
<rect x="836" y="518" width="5" height="14"/>
<rect x="844" y="519" width="5" height="13"/>
<rect x="851" y="522" width="5" height="10"/>
<rect x="858" y="523" width="5" height="9"/>
<rect x="865" y="525" width="5" height="7"/>
<rect x="872" y="513" width="5" height="19"/>
<rect x="879" y="524" width="5" height="8"/>
<rect x="886" y="521" width="5" height="11"/>
<rect x="893" y="523" width="5" height="9"/>
<rect x="900" y="522" width="5" height="10"/>
<rect x="907" y="515" width="5" height="17"/>
<rect x="914" y="501" width="5" height="31"/>
<rect x="921" y="515" width="5" height="17"/>
<rect x="929" y="516" width="5" height="16"/>
<rect x="936" y="517" width="5" height="15"/>
<rect x="943" y="524" width="5" height="8"/>
</g>
<polyline points="14.4,512.8 23,514.2 30,514.8 37,514.8 42,515.8 49,518.8 57,517.8 64,515.8 70,513.2 78,504.8 84,504.8 92,501.7 99,500.7 106,503.8 113,511.8 120,512.8 128,515.2 135,519.2 142,514.8 150,512.2 157,510.6 164,509.6 170,509.6 177,514.8 184,513.8 191,514.8 198,515.8 212,515.8 220,519.2 226,517.6 234,511.8 241,507.8 250,506.8 255,507.2 262,509.6 275,514.8 291,517.2 298,508.2 305,508.8 312,507.8 325.7,507.8 333,518.2 340,520.2 348,521.2 360,520.2 368,516.8 375,516.8 382,515.8 390,512.8 397,506.2 404,507.2 410,507.2 420,505.8 425,505.8 431.7,514.6 439,510.8 445,510.8 454,513.2 460,513.8 467.8,512.8 475,519.2 488,521.2 498,520.8 504,522.2 512,520.8 524,519.2 532,518.8 540,517.8 546,517.8 553,498.7 559.7,495.1 567,477.1 574,472.1 581,461.1 587.8,467.7 594.8,461.1 602,474.1 609.8,479.1 617,487.1 624,497.1 631,506.8 638,508.8 645,501.1 652,497.7 659,497.7 666,498.7 672.7,498.7 680,506.2 688.3,510.2 695,512.8 708,516.8 716.4,520.2 730.4,522.2 737,518.2 744,519.2 766,515.8 773,519.8 782,518.8 808,517.8 815,514.8 821,513.8 828,514.6 836,516.8 843,515.8 850,518.8 858,520.8 864,520.8 872,519.8 879,520.8 892,520.8 899,519.8 907,520.8 914,515.8 928,513.8 935,512.8 942.7,513.8" fill="none" stroke="#f02020" stroke-width="1.1"/>
<rect x="10" y="536" width="1198" height="37.5" fill="rgba(255,0,0,0.15)"/>
<rect x="10" y="573" width="1198" height="1" fill="#e85050"/>
<rect x="10" y="625.5" width="1198" height="37.2" fill="rgba(0,128,0,0.15)"/>
<rect x="10" y="625" width="1198" height="1" fill="#4da24d"/>
<rect x="10" y="599" width="1198" height="1" fill="#99ccff"/>
<polyline points="17.5,627.2 24.5,630.2 31.5,628.2 38.5,609.1 45.5,605.7 52.5,607.1 60.5,603.1 67.5,597.1 74.5,584.1 81.5,580.7 88.5,584.1 95.5,591.7 102.5,583.1 109.5,587.1 116.5,584.7 123.5,589.1 130.5,594.1 138.5,592.1 145.5,604.1 152.5,607.1 159.5,608.1 166.5,606.7 173.5,606.7 180.5,608.1 187.5,600.1 194.5,607.7 201.5,601.1 208.5,595.7 216.5,595.7 223.5,583.1 230.5,575.7 237.5,569.1 244.5,566.7 251.5,576.5 258.5,584.1 265.5,594.1 272.5,602.7 279.5,599.7 286.5,597.7 294.5,597.1 301.5,609.7 308.5,608.7 315.5,609.7 322.5,602.7 329.5,602.7 336.5,601.7 343.5,599.1 350.5,600.7 357.5,601.1 364.5,604.7 371.5,604.7 379.5,602.1 386.5,611.7 393.5,621.1 400.5,625.8 407.5,610.1 414.5,611.1 421.5,613.7 428.5,604.1 435.5,604.1 442.5,598.1 449.5,598.1 457.5,591.1 464.5,587.1 471.5,584.1 478.5,584.1 485.5,584.1 492.5,581.7 499.5,577.1 506.5,584.1 513.5,596.7 520.5,595.7 527.5,608.7 535.5,601.1 542.5,594.1 549.5,599.1 556.5,619.7 563.5,620.7 570.5,629.8 577.5,632.2 584.5,634.8 591.5,635.8 598.5,635.8 605.5,637.2 613.5,638.2 620.5,629.8 627.5,631.8 634.5,633.8 641.5,634.8 648.5,617.1 655.5,620.7 662.5,611.1 669.5,612.7 676.5,606.1 683.5,606.7 691.5,607.7 698.5,609.7 705.5,611.1 712.5,607.1 719.5,608.7 726.5,608.7 733.5,609.1 740.5,594.7 747.5,596.7 754.5,598.1 761.5,597.1 769.5,599.1 776.5,598.1 783.5,600.1 790.5,594.1 797.5,598.1 804.5,589.7 811.5,589.7 818.5,581.7 825.5,585.7 832.5,583.7 839.5,589.7 847.5,592.7 854.5,588.7 861.5,586.7 868.5,583.7 875.5,584.7 882.5,592.7 889.5,589.1 896.5,592.7 903.5,586.1 910.5,581.1 917.5,592.1 924.5,598.1 932.5,592.1 939.5,594.7 946.5,600.7" fill="none" stroke="#1c1cc8" stroke-width="1.2" stroke-linejoin="round"/>
<polyline points="17.5,741.1 24.5,742.1 31.5,741.7 38.5,737.5 45.5,734.1 52.5,731.1 60.5,728.7 67.5,725.1 74.5,718.1 81.5,711.7 88.5,708.1 95.5,707.1 102.5,703.1 109.5,700.1 116.5,698.1 123.5,697.1 130.5,696.9 138.5,697.1 145.5,700.1 152.5,703.1 159.5,706.1 166.5,708.1 173.5,709.1 180.5,709.9 187.5,710.1 194.5,711.1 201.5,711.1 208.5,710.1 216.5,709.1 223.5,704.7 230.5,700.1 237.5,692.1 244.5,685.7 251.5,682.7 258.5,682.7 265.5,685.1 272.5,690.1 279.5,693.1 286.5,695.1 294.5,696.1 301.5,702.1 308.5,705.1 315.5,709.1 322.5,710.1 329.5,711.1 336.5,711.1 343.5,709.7 350.5,709.7 357.5,709.7 364.5,711.1 371.5,712.1 379.5,712.1 386.5,714.1 393.5,718.1 400.5,724.1 407.5,725.1 414.5,725.1 421.5,727.1 428.5,725.1 435.5,723.7 442.5,720.7 449.5,717.1 457.5,713.7 464.5,709.7 471.5,704.7 478.5,701.7 485.5,698.7 492.5,696.1 499.5,692.7 506.5,690.7 513.5,692.7 520.5,693.7 527.5,698.7 535.5,701.1 542.5,700.1 549.5,701.7 556.5,711.1 563.5,719.1 570.5,732.1 577.5,744.1 584.5,756.8 591.5,766.2 598.5,774.2 605.5,780.2 613.5,783.8 620.5,783.8 627.5,786.2 634.5,787.2 641.5,789.2 648.5,784.2 655.5,781.8 662.5,775.2 669.5,770.2 676.5,763.2 683.5,758.2 691.5,753.8 698.5,750.8 705.5,749.2 712.5,745.2 719.5,742.1 726.5,740.1 733.5,738.1 740.5,730.7 747.5,726.7 754.5,723.1 761.5,720.1 769.5,718.5 776.5,716.5 783.5,714.5 790.5,712.1 797.5,710.7 804.5,707.1 811.5,704.7 818.5,699.7 825.5,697.7 832.5,694.7 839.5,693.7 847.5,694.7 854.5,693.7 861.5,692.7 868.5,690.7 875.5,690.7 882.5,691.7 889.5,691.7 896.5,692.7 903.5,692.1 910.5,689.7 917.5,690.7 924.5,692.7 932.5,692.7 939.5,693.7 946.5,697.1" fill="none" stroke="#2424e0" stroke-width="1.1" stroke-linejoin="round"/>
<polyline points="17.5,738.7 24.5,739.7 31.5,740.1 38.5,739.7 45.5,738.7 52.5,737.1 60.5,736.1 67.5,733.1 74.5,730.1 81.5,727.1 88.5,723.1 95.5,720.1 102.5,716.1 109.5,713.1 116.5,710.1 123.5,708.1 130.5,706.1 138.5,704.1 145.5,703.1 152.5,702.7 159.5,703.7 166.5,703.7 173.5,704.7 180.5,705.7 187.5,707.1 194.5,708.1 201.5,709.1 208.5,709.1 216.5,709.1 223.5,708.1 230.5,706.1 237.5,704.1 244.5,700.1 251.5,697.1 258.5,694.1 265.5,692.1 272.5,691.7 279.5,691.7 286.5,692.1 294.5,693.1 301.5,695.1 308.5,697.1 315.5,699.1 322.5,702.1 329.5,703.1 336.5,705.1 343.5,706.1 350.5,707.1 357.5,708.1 364.5,708.1 371.5,709.1 379.5,709.7 386.5,709.7 393.5,712.1 400.5,714.1 407.5,716.1 414.5,718.1 421.5,720.1 428.5,721.1 435.5,722.1 442.5,721.1 449.5,721.1 457.5,719.7 464.5,718.1 471.5,715.1 478.5,712.1 485.5,710.1 492.5,707.1 499.5,703.7 506.5,701.7 513.5,699.7 520.5,699.1 527.5,698.7 535.5,698.7 542.5,698.7 549.5,699.7 556.5,701.7 563.5,705.7 570.5,710.7 577.5,718.1 584.5,726.7 591.5,735.1 598.5,743.1 605.5,750.6 613.5,757.2 620.5,763.2 627.5,767.8 634.5,771.8 641.5,774.6 648.5,776.2 655.5,777 662.5,776.8 669.5,776.2 676.5,773.2 683.5,770.8 691.5,767.2 698.5,763.8 705.5,760.6 712.5,757.2 719.5,754.2 726.5,751.2 733.5,748.6 740.5,745.2 747.5,741.1 754.5,737.1 761.5,733.1 769.5,730.5 776.5,727.7 783.5,725.1 790.5,722.7 797.5,720.1 804.5,718.1 811.5,715.1 818.5,712.1 825.5,709.1 832.5,706.1 839.5,704.1 847.5,702.1 854.5,700.1 861.5,698.7 868.5,697.1 875.5,696.1 882.5,695.1 889.5,694.7 896.5,693.7 903.5,693.7 910.5,692.7 917.5,691.7 924.5,692.7 932.5,692.7 939.5,692.7 946.5,693.7" fill="none" stroke="#d42020" stroke-width="1.1" stroke-linejoin="round"/>
<g font-family="Liberation Sans, sans-serif" font-size="11">
<text x="10" y="13" fill="#808080" stroke="#808080">RALLYE - abcbourse.com</text>
<text x="1208" y="13" fill="#808080" stroke="#808080" text-anchor="end">1 AN - JOUR</text>
<text x="15" y="29" fill="#0000ff" stroke="#0000ff">ICHIMOKU (26, 9)</text>
<text x="120" y="29" fill="#70b070" stroke="#70b070">SUPRES (5)</text>
<text x="15" y="417" fill="#a8a8a8" stroke="#a8a8a8">VOLUME</text>
<text x="15" y="548" fill="#0000c0" stroke="#0000c0">RSI (14)</text>
<text x="15" y="679" fill="#1010d0" stroke="#1010d0">MACD (12, 26, 9)</text>
<text x="1213.3" y="25" fill="#5a5a5a" stroke="#5a5a5a">16.20</text>
<text x="1213.3" y="64.4" fill="#5a5a5a" stroke="#5a5a5a">15.60</text>
<text x="1213.3" y="103.9" fill="#5a5a5a" stroke="#5a5a5a">15.00</text>
<text x="1213.3" y="143.3" fill="#5a5a5a" stroke="#5a5a5a">14.40</text>
<text x="1213.3" y="182.8" fill="#5a5a5a" stroke="#5a5a5a">13.80</text>
<text x="1213.3" y="222.2" fill="#5a5a5a" stroke="#5a5a5a">13.20</text>
<text x="1213.3" y="261.7" fill="#5a5a5a" stroke="#5a5a5a">12.60</text>
<text x="1213.3" y="301.1" fill="#5a5a5a" stroke="#5a5a5a">12.00</text>
<text x="1213.3" y="340.6" fill="#5a5a5a" stroke="#5a5a5a">11.40</text>
<text x="1213.3" y="380" fill="#5a5a5a" stroke="#5a5a5a">10.80</text>
<rect x="1210" y="226" width="43" height="15" fill="#3366ff"/>
<text x="1213.3" y="237" fill="#fff" stroke="#fff">13.00</text>
<rect x="1210" y="335" width="43" height="14.5" fill="#c00000"/>
<text x="1213.3" y="346" fill="#fff" stroke="#fff">11.35</text>
<text x="1213.3" y="444" fill="#5a5a5a" stroke="#5a5a5a">400.0K</text>
<text x="1213.3" y="489" fill="#5a5a5a" stroke="#5a5a5a">200.0K</text>
<clipPath id="cv"><rect x="1200" y="400" width="53" height="131.5"/></clipPath>
<text x="1213.3" y="534" fill="#5a5a5a" stroke="#5a5a5a" clip-path="url(#cv)">0.000K</text>
<rect x="1210" y="510" width="43" height="14.5" fill="#a0a0a0"/>
<text x="1213.3" y="521" fill="#000" stroke="#000">35 307</text>
<text x="1213.3" y="562.5" fill="#5a5a5a" stroke="#5a5a5a">80.00</text>
<text x="1213.3" y="614" fill="#5a5a5a" stroke="#5a5a5a">40.00</text>
<clipPath id="cr"><rect x="1200" y="600" width="53" height="62.5"/></clipPath>
<text x="1213.3" y="664" fill="#5a5a5a" stroke="#5a5a5a" clip-path="url(#cr)">0.000</text>
<rect x="1210" y="587" width="43" height="15" fill="#0000c0"/>
<text x="1213.3" y="598" fill="#fff" stroke="#fff">48.08</text>
<text x="1213.3" y="709" fill="#5a5a5a" stroke="#5a5a5a">0.000</text>
<text x="1213.3" y="756" fill="#5a5a5a" stroke="#5a5a5a">-0.500</text>
<rect x="1210" y="680" width="43" height="3" fill="#c00000"/>
<rect x="1210" y="683" width="43" height="15" fill="#0000c0"/>
<text x="1213.3" y="693.5" fill="#fff" stroke="#fff">0.110</text>
<text x="91.1" y="808" fill="#666" stroke="#666" text-anchor="middle">04/12</text>
<text x="169.1" y="808" fill="#666" stroke="#666" text-anchor="middle">19/12</text>
<text x="247.1" y="808" fill="#666" stroke="#666" text-anchor="middle">08/01</text>
<text x="325.1" y="808" fill="#666" stroke="#666" text-anchor="middle">23/01</text>
<text x="403.1" y="808" fill="#666" stroke="#666" text-anchor="middle">07/02</text>
<text x="481.1" y="808" fill="#666" stroke="#666" text-anchor="middle">22/02</text>
<text x="559.1" y="808" fill="#666" stroke="#666" text-anchor="middle">09/03</text>
<text x="637.1" y="808" fill="#666" stroke="#666" text-anchor="middle">26/03</text>
<text x="715.1" y="808" fill="#666" stroke="#666" text-anchor="middle">12/04</text>
<text x="793.1" y="808" fill="#666" stroke="#666" text-anchor="middle">27/04</text>
<text x="871.1" y="808" fill="#666" stroke="#666" text-anchor="middle">15/05</text>
<text x="949.1" y="808" fill="#666" stroke="#666" text-anchor="middle">01/06</text>
<text x="1027.1" y="808" fill="#666" stroke="#666" text-anchor="middle">16/06</text>
<text x="1105.1" y="808" fill="#666" stroke="#666" text-anchor="middle">02/07</text>
<text x="1183.1" y="808" fill="#666" stroke="#666" text-anchor="middle">17/07</text>
</g>
</svg>
</body></html>
